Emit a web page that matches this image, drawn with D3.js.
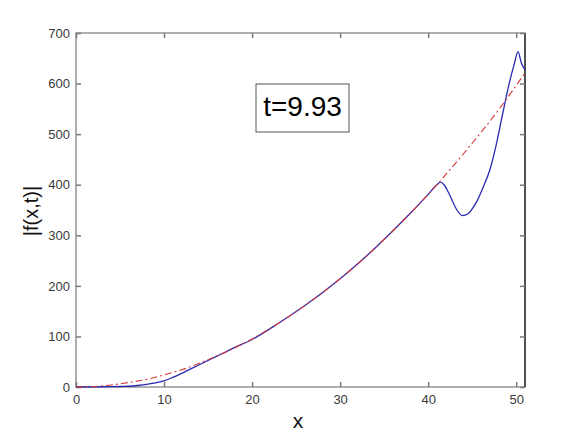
<!DOCTYPE html>
<html>
<head>
<meta charset="utf-8">
<script src="https://cdn.jsdelivr.net/npm/d3@7"></script>
<style>
  body { margin: 0; background: #fff; }
  svg { display: block; font-family: Arial, "Liberation Sans", sans-serif; }
</style>
</head>
<body>
<svg id="chart" width="581" height="435"></svg>
<script>
// values
const xTicks = [0, 10, 20, 30, 40, 50];
const yTicks = [0, 100, 200, 300, 400, 500, 600, 700];

// red dash-dot reference curve
const refX = [0, 2, 4, 6, 8, 10, 12, 15, 18, 20, 23, 26, 30, 33, 36, 39, 42, 45, 48, 51];
const refY = [0, 1, 4, 9, 15, 24, 34, 54, 77, 95, 126, 161, 214, 259, 309, 362, 420, 482, 548, 621];

// blue solid |f(x,t)|
const fX = [0, 3, 5, 6, 7, 8, 9, 10, 11, 12, 14, 16, 18, 20, 23, 26, 30, 33, 36, 38, 40, 41, 41.4,
            41.8, 42.3, 42.8, 43.3, 43.9, 44.5, 45, 45.5, 46.2, 47, 47.6, 48.4, 49.2, 49.8, 50.2, 50.6, 51];
const fY = [0, 0.5, 1, 1.5, 3, 5, 8, 12, 19, 27, 44, 61, 78, 94, 126, 161, 214, 259, 309, 344, 381, 400, 405,
            400, 385, 366, 349, 339, 342, 352, 366, 393, 429, 469, 535, 600, 640, 663, 640, 627];

const svg = d3.select('#chart');
const L = 76, R = 525, T = 33, B = 387;

const x = d3.scaleLinear().domain([0, 51]).range([L, R]);
const y = d3.scaleLinear().domain([0, 700]).range([B, T]);

const axisCol = '#7a7a7a';
const tickLen = 5;

// frame
svg.append('rect').attr('x', L).attr('y', T).attr('width', R - L).attr('height', B - T)
  .attr('fill', '#fff').attr('stroke', axisCol).attr('stroke-width', 1.2);
svg.append('line').attr('x1', R).attr('x2', R).attr('y1', T).attr('y2', B)
  .attr('stroke', '#111').attr('stroke-width', 1.2);

// axes (ticks pointing inward, labels outside)
const xb = svg.append('g').attr('transform', `translate(0,${B})`)
  .call(d3.axisBottom(x).tickValues(xTicks).tickSizeInner(-tickLen).tickSizeOuter(0).tickPadding(8));
const xt = svg.append('g').attr('transform', `translate(0,${T})`)
  .call(d3.axisTop(x).tickValues(xTicks).tickSizeInner(-tickLen).tickSizeOuter(0).tickFormat(''));
const yl = svg.append('g').attr('transform', `translate(${L},0)`)
  .call(d3.axisLeft(y).tickValues(yTicks).tickSizeInner(-tickLen).tickSizeOuter(0).tickPadding(6));
const yr = svg.append('g').attr('transform', `translate(${R},0)`)
  .call(d3.axisRight(y).tickValues(yTicks).tickSizeInner(-tickLen).tickSizeOuter(0).tickFormat(''));

[xb, xt, yl, yr].forEach(g => {
  g.select('.domain').remove();
  g.selectAll('.tick line').attr('stroke', axisCol).attr('stroke-width', 1.5);
  g.selectAll('.tick text').attr('fill', '#3a3a3a').attr('font-size', 13)
    .attr('font-family', 'Arial, "Liberation Sans", sans-serif');
});

// curves
const line = d3.line().x(d => x(d[0])).y(d => y(d[1])).curve(d3.curveMonotoneX);

svg.append('path').datum(fX.map((v, i) => [v, fY[i]]))
  .attr('d', line).attr('fill', 'none')
  .attr('stroke', '#2a2ab0').attr('stroke-width', 1.3);

svg.append('path').datum(refX.map((v, i) => [v, refY[i]]))
  .attr('d', line).attr('fill', 'none')
  .attr('stroke', '#d83a3a').attr('stroke-width', 1.1)
  .attr('stroke-dasharray', '7,3,2,3');

// annotation box
const box = svg.append('g');
box.append('rect').attr('x', 256).attr('y', 84).attr('width', 93).attr('height', 48)
  .attr('fill', '#fff').attr('stroke', '#555').attr('stroke-width', 1);
box.append('text').attr('x', 302.5).attr('y', 115.5).attr('text-anchor', 'middle')
  .attr('font-size', 28).attr('fill', '#000').text('t=9.93');

// axis titles
svg.append('text').attr('x', 298).attr('y', 428).attr('text-anchor', 'middle')
  .attr('font-size', 21).attr('fill', '#111').text('x');
svg.append('text').attr('transform', 'translate(38,211) rotate(-90)')
  .attr('text-anchor', 'middle').attr('font-size', 20).attr('fill', '#111').text('|f(x,t)|');
</script>
</body>
</html>
